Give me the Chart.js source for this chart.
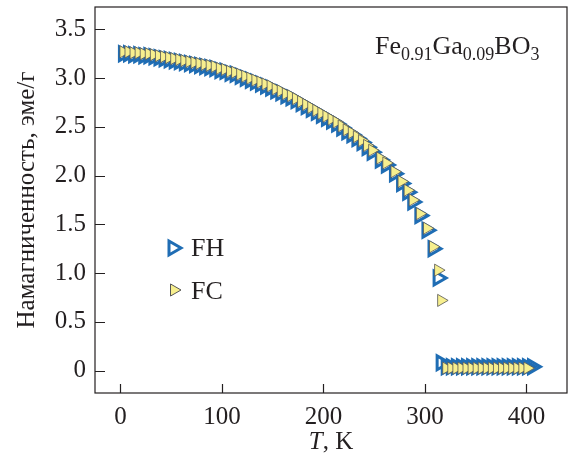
<!DOCTYPE html>
<html>
<head>
<meta charset="utf-8">
<script src="https://cdn.jsdelivr.net/npm/chart.js@4/dist/chart.umd.min.js"></script>
<style>
  html, body { margin: 0; padding: 0; background: #fff; }
  #wrap { width: 578px; height: 462px; }
  .probe { position: absolute; left: -999px; top: 0; font-family: "Liberation Serif"; }
</style>
</head>
<body>
<span class="probe">FH <i>T</i> Намагниченность 0123</span>
<div id="wrap"><canvas id="magChart" width="578" height="462"></canvas></div>
<script>
// Temperatures (K) and magnetization (emu/g)
const tempFC = [3, 8, 13, 18, 23, 28, 33, 38, 43, 48, 53, 58, 63, 68, 73, 78, 83, 88, 93, 98,
  103, 108, 113, 118, 123, 128, 133, 138, 143, 148, 153, 158, 163, 168, 173, 178, 183, 188, 193, 198,
  203, 208, 213, 218, 223, 228, 233, 238, 243, 248, 256, 262, 270, 277, 283, 288, 295, 302, 308, 313, 316,
  321, 326, 331, 336, 341, 346, 351, 356, 361, 366, 371, 376, 381, 386, 391, 396, 401];
const magFC = [3.27, 3.27, 3.26, 3.26, 3.25, 3.25, 3.24, 3.23, 3.22, 3.21, 3.20, 3.19, 3.18, 3.17, 3.16, 3.15, 3.14, 3.13, 3.12, 3.10,
  3.09, 3.07, 3.06, 3.04, 3.02, 3.00, 2.98, 2.96, 2.94, 2.92, 2.89, 2.87, 2.84, 2.82, 2.79, 2.76, 2.73, 2.70, 2.67, 2.64,
  2.61, 2.58, 2.55, 2.51, 2.47, 2.44, 2.40, 2.36, 2.31, 2.26, 2.18, 2.13, 2.04, 1.94, 1.85, 1.75, 1.61, 1.46, 1.27, 1.03, 0.72,
  0.025, 0.025, 0.025, 0.025, 0.025, 0.025, 0.025, 0.025, 0.025, 0.025, 0.025, 0.025, 0.025, 0.025, 0.025, 0.025, 0.025];

const tempFH = [3, 8, 13, 18, 23, 28, 33, 38, 43, 48, 53, 58, 63, 68, 73, 78, 83, 88, 93, 98,
  103, 108, 113, 118, 123, 128, 133, 138, 143, 148, 153, 158, 163, 168, 173, 178, 183, 188, 193, 198,
  203, 208, 213, 218, 223, 228, 233, 238, 243, 248, 256, 262, 270, 277, 283, 288, 295, 302, 308, 313, 316,
  321, 326, 331, 336, 341, 346, 351, 356, 361, 366, 371, 376, 381, 386, 391, 396, 401, 406];
const magFH = [3.25, 3.25, 3.24, 3.24, 3.23, 3.23, 3.22, 3.21, 3.20, 3.19, 3.18, 3.17, 3.16, 3.15, 3.14, 3.13, 3.12, 3.11, 3.10, 3.08,
  3.07, 3.05, 3.04, 3.02, 3.00, 2.98, 2.96, 2.94, 2.92, 2.90, 2.87, 2.85, 2.82, 2.80, 2.77, 2.74, 2.71, 2.68, 2.65, 2.62,
  2.59, 2.56, 2.53, 2.49, 2.45, 2.42, 2.38, 2.34, 2.29, 2.24, 2.16, 2.11, 2.02, 1.92, 1.83, 1.73, 1.59, 1.44, 1.25, 0.95, 0.08,
  0.04, 0.04, 0.04, 0.04, 0.04, 0.04, 0.04, 0.04, 0.04, 0.04, 0.04, 0.04, 0.04, 0.04, 0.04, 0.04, 0.04, 0.04];

const xTicks = [0, 100, 200, 300, 400];
const yTicks = [0, 0.5, 1.0, 1.5, 2.0, 2.5, 3.0, 3.5];
const yTickLabels = ['0', '0.5', '1.0', '1.5', '2.0', '2.5', '3.0', '3.5'];

const SERIF = '"Liberation Serif", "Times New Roman", serif';
const INK = '#231f20';
const BLUE = '#1f6db4';
const YELLOW = '#f7ef8e';

function toPoints(xs, ys) {
  return xs.map((t, i) => ({ x: t, y: ys[i] }));
}

// inward ticks, frame, legend, formula and x title
const decor = {
  id: 'decor',
  afterDraw(chart) {
    const ctx = chart.ctx;
    const a = chart.chartArea;
    const x = chart.scales.x;
    const y = chart.scales.y;
    ctx.save();
    ctx.strokeStyle = INK;
    ctx.lineWidth = 1.2;
    ctx.strokeRect(a.left, a.top, a.right - a.left, a.bottom - a.top);
    ctx.beginPath();
    xTicks.forEach(v => {
      const px = Math.round(x.getPixelForValue(v)) + 0.5;
      ctx.moveTo(px, a.bottom);
      ctx.lineTo(px, a.bottom - 9);
    });
    yTicks.forEach(v => {
      const py = Math.round(y.getPixelForValue(v)) + 0.5;
      ctx.moveTo(a.left, py);
      ctx.lineTo(a.left + 10, py);
    });
    ctx.stroke();

    // legend
    const drawPoint = Chart.helpers.drawPoint;
    ctx.lineJoin = 'miter';
    ctx.strokeStyle = BLUE;
    ctx.fillStyle = 'rgba(255,255,255,0)';
    ctx.lineWidth = 3;
    drawPoint(ctx, { pointStyle: 'triangle', radius: 8, rotation: 90, borderWidth: 3 }, 173, 248);
    ctx.strokeStyle = '#555';
    ctx.fillStyle = YELLOW;
    ctx.lineWidth = 1;
    drawPoint(ctx, { pointStyle: 'triangle', radius: 7, rotation: 90, borderWidth: 1 }, 174, 290);

    ctx.fillStyle = INK;
    ctx.textBaseline = 'alphabetic';
    ctx.textAlign = 'left';
    ctx.font = '26px ' + SERIF;
    ctx.fillText('FH', 191, 256);
    ctx.fillText('FC', 191, 299);

    // compound formula with subscripts
    const parts = [['Fe', false], ['0.91', true], ['Ga', false], ['0.09', true], ['BO', false], ['3', true]];
    let cx = 375;
    parts.forEach(([s, sub]) => {
      ctx.font = (sub ? '18px ' : '26px ') + SERIF;
      ctx.fillText(s, cx, sub ? 60 : 54);
      cx += ctx.measureText(s).width;
    });

    // x axis title: italic T
    ctx.font = 'italic 25px ' + SERIF;
    const wT = ctx.measureText('T').width;
    ctx.font = '25px ' + SERIF;
    const wRest = ctx.measureText(', K').width;
    const tx = (a.left + a.right) / 2 - (wT + wRest) / 2;
    ctx.font = 'italic 25px ' + SERIF;
    ctx.fillText('T', tx, 449);
    ctx.font = '25px ' + SERIF;
    ctx.fillText(', K', tx + wT, 449);
    ctx.restore();
  }
};

function drawChart() {
  new Chart(document.getElementById('magChart').getContext('2d'), {
    type: 'scatter',
    data: {
      datasets: [{
        label: 'FH',
        data: toPoints(tempFH, magFH),
        pointStyle: 'triangle',
        rotation: 90,
        pointRadius: 8,
        pointBorderWidth: 3,
        borderColor: BLUE,
        backgroundColor: 'rgba(255,255,255,0)',
        order: 2
      }, {
        label: 'FC',
        data: toPoints(tempFC, magFC),
        pointStyle: 'triangle',
        rotation: 90,
        pointRadius: 7,
        pointBorderWidth: 0.8,
        borderColor: '#555',
        backgroundColor: YELLOW,
        order: 1
      }]
    },
    options: {
      responsive: false,
      animation: false,
      layout: { autoPadding: false, padding: { top: 7, right: 11, left: 0, bottom: 0 } },
      plugins: {
        legend: { display: false },
        tooltip: { enabled: false }
      },
      scales: {
        x: {
          type: 'linear',
          min: -25,
          max: 440,
          afterBuildTicks: s => { s.ticks = xTicks.map(v => ({ value: v })); },
          afterFit: s => { s.height = 69; s.paddingLeft = 0; s.paddingRight = 0; },
          grid: { display: false, drawTicks: false },
          border: { display: false },
          ticks: { color: INK, font: { family: SERIF, size: 25 }, padding: 9, maxRotation: 0 }
        },
        y: {
          type: 'linear',
          min: -0.23,
          max: 3.73,
          afterBuildTicks: s => { s.ticks = yTicks.map(v => ({ value: v })); },
          afterFit: s => { s.width = 95; s.paddingTop = 0; s.paddingBottom = 0; },
          grid: { display: false, drawTicks: false },
          border: { display: false },
          ticks: {
            color: INK,
            font: { family: SERIF, size: 25, lineHeight: 0.4 },
            padding: 9,
            callback: (v, i) => yTickLabels[i]
          },
          title: {
            display: true,
            text: 'Намагниченность, эме/г',
            color: INK,
            font: { family: SERIF, size: 25 },
            padding: { top: 12, bottom: 0 }
          }
        }
      }
    },
    plugins: [decor]
  });
}

Promise.all([
  document.fonts.load('25px "Liberation Serif"'),
  document.fonts.load('italic 25px "Liberation Serif"')
]).then(drawChart, drawChart);
</script>
</body>
</html>
